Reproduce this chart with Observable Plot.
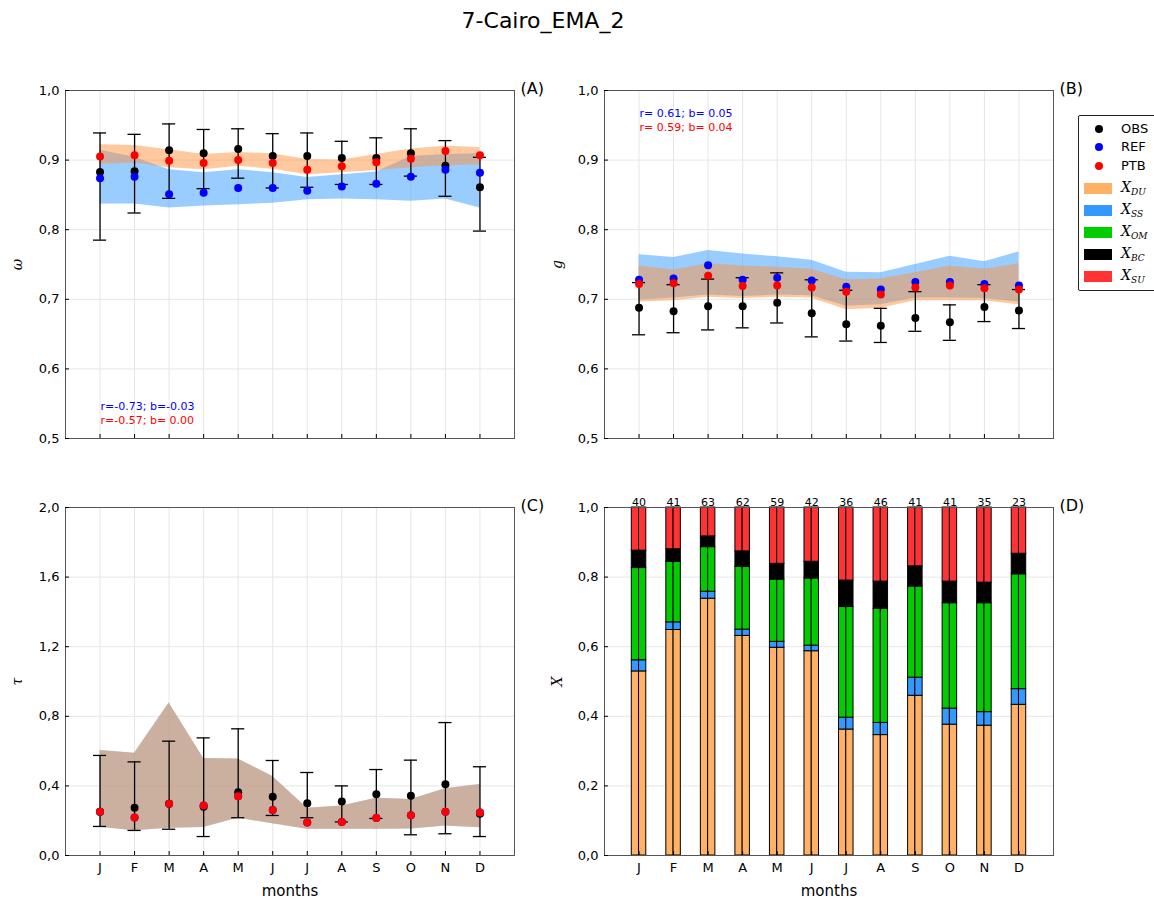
<!DOCTYPE html>
<html><head><meta charset="utf-8">
<script src="https://cdn.jsdelivr.net/npm/d3@7"></script>
<script src="https://cdn.jsdelivr.net/npm/@observablehq/plot@0.6"></script>
<style>
body{margin:0;width:1154px;height:901px;overflow:hidden;background:#fff;font-family:"DejaVu Sans",sans-serif;position:relative}
.panel{position:absolute}
#title{position:absolute;left:0;width:1086px;top:8px;text-align:center;font-size:22px;color:#000}
#legend{position:absolute;left:1078px;top:115px;width:95px;height:174px;border:1px solid #222;border-radius:2px;background:#fff}
.lrow{position:absolute;left:0;width:95px;height:20px}
.ldot{position:absolute;left:16px;width:8px;height:8px;border-radius:50%}
.lpatch{position:absolute;left:5px;width:28px;height:11px}
.ltxt{position:absolute;left:42px;font-size:13px;line-height:14px}
.lmath{position:absolute;left:42px;font-family:"DejaVu Serif",serif;font-style:italic;font-size:14px;line-height:14px}
.lmath sub{font-size:9px;vertical-align:-3px}
svg [aria-label="y-axis label"] text{font-family:"DejaVu Serif",serif;font-style:italic;font-size:14px}
svg [aria-label="x-axis label"] text{font-size:15px}
</style></head><body>
<div id="title">7-Cairo_EMA_2</div>
<div id="pA" class="panel" style="left:0;top:50px"></div>
<div id="pB" class="panel" style="left:550px;top:50px"></div>
<div id="pC" class="panel" style="left:0;top:460px"></div>
<div id="pD" class="panel" style="left:550px;top:460px"></div>
<div id="legend"></div>
<script>
// ---------------- data ----------------
const months = ["J","F","M","A","M","J","J","A","S","O","N","D"];
const monthNum = [1,2,3,4,5,6,7,8,9,10,11,12];

// (A) single scattering albedo ω
const obsW   = [0.883,0.884,0.914,0.910,0.916,0.906,0.906,0.903,0.903,0.910,0.892,0.861];
const obsWLo = [0.785,0.824,0.845,0.859,0.874,0.860,0.861,0.865,0.865,0.877,0.848,0.798];
const obsWHi = [0.939,0.937,0.952,0.944,0.945,0.938,0.939,0.927,0.932,0.945,0.928,0.904];
const refW   = [0.874,0.876,0.851,0.853,0.860,0.860,0.856,0.862,0.866,0.876,0.886,0.882];
const ptbW   = [0.905,0.907,0.899,0.896,0.900,0.896,0.886,0.891,0.897,0.902,0.913,0.907];
const duWHi  = [0.922,0.921,0.915,0.908,0.911,0.909,0.901,0.900,0.908,0.916,0.920,0.918];
const duWLo  = [0.894,0.896,0.889,0.886,0.891,0.887,0.879,0.882,0.885,0.889,0.892,0.893];
const ssWHi  = [0.914,0.904,0.886,0.882,0.886,0.882,0.875,0.879,0.883,0.905,0.908,0.909];
const ssWLo  = [0.837,0.837,0.831,0.834,0.836,0.838,0.843,0.844,0.843,0.841,0.844,0.831];

// (B) asymmetry parameter g
const obsG   = [0.688,0.683,0.690,0.690,0.695,0.680,0.664,0.662,0.673,0.667,0.689,0.684];
const obsGLo = [0.649,0.652,0.656,0.659,0.666,0.646,0.640,0.638,0.654,0.641,0.668,0.658];
const obsGHi = [0.724,0.721,0.729,0.731,0.738,0.728,0.713,0.687,0.711,0.692,0.721,0.714];
const refG   = [0.728,0.730,0.749,0.728,0.731,0.727,0.718,0.714,0.725,0.725,0.722,0.720];
const ptbG   = [0.722,0.723,0.734,0.719,0.720,0.717,0.711,0.707,0.717,0.720,0.716,0.714];
const ssGHi  = [0.764,0.760,0.770,0.765,0.761,0.756,0.739,0.738,0.750,0.762,0.754,0.768];
const ssGLo  = [0.699,0.702,0.706,0.704,0.706,0.705,0.690,0.692,0.702,0.702,0.701,0.696];
const duGHi  = [0.748,0.742,0.751,0.748,0.746,0.743,0.728,0.729,0.738,0.748,0.743,0.751];
const duGLo  = [0.696,0.698,0.703,0.701,0.703,0.702,0.685,0.687,0.698,0.698,0.698,0.692];

// (C) optical depth τ
const obsT   = [0.251,0.274,0.297,0.280,0.364,0.337,0.301,0.310,0.352,0.343,0.410,0.240];
const obsTLo = [0.167,0.144,0.151,0.109,0.217,0.230,0.217,0.193,0.213,0.119,0.125,0.109];
const obsTHi = [0.575,0.538,0.657,0.676,0.728,0.546,0.477,0.400,0.494,0.548,0.764,0.510];
const refT   = [0.251,0.218,0.297,0.287,0.341,0.261,0.190,0.193,0.216,0.232,0.251,0.247];
const ptbT   = [0.251,0.218,0.297,0.287,0.341,0.261,0.190,0.193,0.216,0.232,0.251,0.247];
const bandTHi= [0.603,0.588,0.877,0.557,0.554,0.454,0.272,0.285,0.329,0.322,0.383,0.408];
const bandTLo= [0.163,0.142,0.157,0.161,0.215,0.182,0.151,0.151,0.151,0.153,0.169,0.159];

// (D) species fractions X
const fracDU = [0.529,0.648,0.738,0.631,0.597,0.587,0.362,0.346,0.459,0.376,0.373,0.433];
const fracSS = [0.032,0.022,0.020,0.018,0.017,0.016,0.034,0.035,0.052,0.046,0.039,0.045];
const fracOM = [0.265,0.174,0.128,0.180,0.179,0.193,0.318,0.328,0.262,0.303,0.313,0.330];
const fracBC = [0.050,0.036,0.031,0.045,0.045,0.048,0.076,0.078,0.058,0.062,0.059,0.059];
const fracSU = [0.124,0.120,0.083,0.126,0.162,0.156,0.210,0.213,0.169,0.213,0.216,0.133];
const counts = [40,41,63,62,59,42,36,46,41,41,35,23];

const species = ["DU","SS","OM","BC","SU"];
const speciesColors = ["#ffb266","#3399ff","#00cc00","#000000","#ff3333"];

const yTicksW = [0.5,0.6,0.7,0.8,0.9,1.0];
const yTicksT = [0.0,0.4,0.8,1.2,1.6,2.0];
const yTicksX = [0.0,0.2,0.4,0.6,0.8,1.0];

// ---------------- helpers ----------------
const fmt = d => d.toFixed(1).replace(".", ",");
const GRID = "#e6e6e6";
const baseStyle = {fontFamily:"DejaVu Sans, sans-serif", fontSize:"13px", background:"transparent", overflow:"visible", color:"#000"};

function axes(yTicks, ylabel, ylabelOffset, showX){
  const ax = [
    Plot.frame({stroke:"#555", strokeWidth:1}),
    Plot.axisY(yTicks, {tickSize:-4, tickPadding:10, tickFormat:fmt, fontSize:13, line:true, stroke:"black",
      label:ylabel, labelAnchor:"center", labelOffset:ylabelOffset, labelArrow:"none"})
  ];
  if (showX) {
    ax.push(Plot.axisX(monthNum, {tickSize:-4, tickPadding:11, tickFormat:i=>months[i-1], fontSize:13, line:true, stroke:"black",
      label:"months", labelAnchor:"center", labelOffset:40, labelArrow:"none"}));
  } else {
    ax.push(Plot.axisX(monthNum, {tickSize:-4, text:null, line:true, stroke:"black", label:null}));
  }
  return ax;
}

function linePanel(cfg){
  const data = monthNum.map((m,i)=>({m, obs:cfg.obs[i], lo:cfg.lo[i], hi:cfg.hi[i], ref:cfg.ref[i], ptb:cfg.ptb[i],
    sHi:cfg.ssHi[i], sLo:cfg.ssLo[i], dHi:cfg.duHi[i], dLo:cfg.duLo[i]}));
  const marks = [
    Plot.gridX(monthNum, {stroke:GRID, strokeOpacity:1}),
    Plot.gridY(cfg.yTicks, {stroke:GRID, strokeOpacity:1}),
    Plot.areaY(data, {x:"m", y1:"sLo", y2:"sHi", fill:"#3399ff", fillOpacity:0.5}),
    Plot.areaY(data, {x:"m", y1:"dLo", y2:"dHi", fill:"#ff9440", fillOpacity:0.5}),
    Plot.ruleX(data, {x:"m", y1:"lo", y2:"hi", stroke:"black", strokeWidth:1.3}),
    Plot.ruleY(data, {y:"hi", x1:d=>d.m-0.19, x2:d=>d.m+0.19, stroke:"black", strokeWidth:1.3}),
    Plot.ruleY(data, {y:"lo", x1:d=>d.m-0.19, x2:d=>d.m+0.19, stroke:"black", strokeWidth:1.3}),
    Plot.dot(data, {x:"m", y:"obs", r:4, fill:"black"}),
    Plot.dot(data, {x:"m", y:"ref", r:4, fill:"#0000ff"}),
    Plot.dot(data, {x:"m", y:"ptb", r:4, fill:"#ff0000"}),
    ...axes(cfg.yTicks, cfg.ylabel, cfg.ylabelOffset, cfg.showX),
    Plot.text([cfg.tag], {frameAnchor:"top-right", dx:6, dy:-2, textAnchor:"start", lineAnchor:"middle", fontSize:16})
  ];
  if (cfg.stats) {
    const s = cfg.stats;
    marks.push(Plot.text([s.t1], {frameAnchor:s.anchor, dx:35, dy:s.dy1, textAnchor:"start", lineAnchor:"bottom", fontSize:11, fill:"#0000ff"}));
    marks.push(Plot.text([s.t2], {frameAnchor:s.anchor, dx:35, dy:s.dy2, textAnchor:"start", lineAnchor:"bottom", fontSize:11, fill:"#ff0000"}));
  }
  return Plot.plot({
    width:cfg.width, height:cfg.height,
    marginLeft:cfg.ml, marginRight:cfg.mr, marginTop:cfg.mt, marginBottom:cfg.mb,
    style:baseStyle,
    x:{domain:[0,13], axis:null},
    y:{domain:cfg.yDomain, axis:null},
    marks
  });
}

// ---------------- panels ----------------
document.getElementById("pA").append(linePanel({
  width:550, height:420, ml:65, mr:36, mt:40, mb:32,
  obs:obsW, lo:obsWLo, hi:obsWHi, ref:refW, ptb:ptbW, ssHi:ssWHi, ssLo:ssWLo, duHi:duWHi, duLo:duWLo,
  yDomain:[0.5,1.0], yTicks:yTicksW, ylabel:"ω", ylabelOffset:53, showX:false, tag:"(A)",
  stats:{anchor:"bottom-left", t1:"r=-0.73; b=-0.03", t2:"r=-0.57; b= 0.00", dy1:-29, dy2:-15}
}));

document.getElementById("pB").append(linePanel({
  width:604, height:420, ml:54, mr:101, mt:40, mb:32,
  obs:obsG, lo:obsGLo, hi:obsGHi, ref:refG, ptb:ptbG, ssHi:ssGHi, ssLo:ssGLo, duHi:duGHi, duLo:duGLo,
  yDomain:[0.5,1.0], yTicks:yTicksW, ylabel:"g", ylabelOffset:52, showX:false, tag:"(B)",
  stats:{anchor:"top-left", t1:"r= 0.61; b= 0.05", t2:"r= 0.59; b= 0.04", dy1:26, dy2:40}
}));

document.getElementById("pC").append(linePanel({
  width:550, height:441, ml:65, mr:36, mt:47, mb:46,
  obs:obsT, lo:obsTLo, hi:obsTHi, ref:refT, ptb:ptbT, ssHi:bandTHi, ssLo:bandTLo, duHi:bandTHi, duLo:bandTLo,
  yDomain:[0,2.0], yTicks:yTicksT, ylabel:"τ", ylabelOffset:53, showX:true, tag:"(C)"
}));

// (D) stacked fractions
const fracs = [fracDU, fracSS, fracOM, fracBC, fracSU];
const segs = [];
monthNum.forEach((m,i)=>{
  let acc = 0;
  species.forEach((sp,k)=>{
    const v = fracs[k][i];
    for (const side of [-1, 1]) {
      segs.push({m, side, sp, y1:acc, y2:acc+v, color:speciesColors[k]});
    }
    acc += v;
  });
});
const countData = monthNum.map((m,i)=>({m, n:String(counts[i])}));
const HALF = 0.21;
document.getElementById("pD").append(Plot.plot({
  width:604, height:441, marginLeft:54, marginRight:101, marginTop:47, marginBottom:46,
  style:baseStyle,
  x:{domain:[0,13], axis:null},
  y:{domain:[0,1], axis:null},
  marks:[
    Plot.gridX(monthNum, {stroke:GRID, strokeOpacity:1}),
    Plot.gridY(yTicksX, {stroke:GRID, strokeOpacity:1}),
    Plot.rect(segs, {x1:d=>d.side<0 ? d.m-HALF : d.m, x2:d=>d.side<0 ? d.m : d.m+HALF, y1:"y1", y2:"y2",
      fill:"color", stroke:"black", strokeWidth:1}),
    ...axes(yTicksX, "X", 52, true),
    Plot.text(countData, {x:"m", text:"n", frameAnchor:"top", dy:-2, lineAnchor:"bottom", fontSize:11}),
    Plot.text(["(D)"], {frameAnchor:"top-right", dx:6, dy:-2, textAnchor:"start", lineAnchor:"middle", fontSize:16})
  ]
}));

// ---------------- legend ----------------
const legendSeries = ["OBS","REF","PTB"];
const legendSeriesColors = ["#000000","#0000ff","#ff0000"];
const legendRowsY = [13,31,50,72,94,116,138,160];
const leg = document.getElementById("legend");
legendSeries.forEach((name,i)=>{
  const row = document.createElement("div");
  row.className = "lrow"; row.style.top = (legendRowsY[i]-10)+"px";
  row.innerHTML = `<div class="ldot" style="top:6px;background:${legendSeriesColors[i]}"></div><div class="ltxt" style="top:3px">${name}</div>`;
  leg.append(row);
});
species.forEach((sp,k)=>{
  const row = document.createElement("div");
  row.className = "lrow"; row.style.top = (legendRowsY[3+k]-10)+"px";
  row.innerHTML = `<div class="lpatch" style="top:5px;background:${speciesColors[k]}"></div><div class="lmath" style="top:2px">X<sub>${sp}</sub></div>`;
  leg.append(row);
});
</script>
</body></html>
